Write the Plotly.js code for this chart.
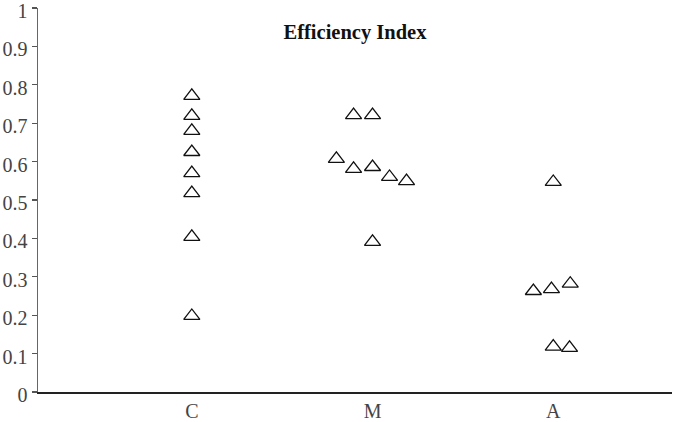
<!DOCTYPE html>
<html>
<head>
<meta charset="utf-8">
<script src="https://cdn.plot.ly/plotly-3.0.1.min.js"></script>
<style>
  html, body { margin: 0; padding: 0; background: #fff; }
  #chart { width: 675px; height: 422px; }
</style>
</head>
<body>
<div id="chart"></div>
<script>
// categories and values
const categories = ['C', 'M', 'A'];
const cValues = [0.771, 0.719, 0.680, 0.625, 0.570, 0.518, 0.404, 0.198];
const mValues = [0.721, 0.721, 0.607, 0.581, 0.586, 0.560, 0.549, 0.391];
const aValues = [0.547, 0.263, 0.268, 0.282, 0.118, 0.115];
const yTicks = [0, 0.1, 0.2, 0.3, 0.4, 0.5, 0.6, 0.7, 0.8, 0.9, 1];

// horizontal jitter of each point (in category widths)
const cJitter = [0, 0, 0, 0, 0, 0, 0, 0];
const mJitter = [-0.105, 0, -0.2, -0.105, 0, 0.094, 0.188, 0];
const aJitter = [0, -0.11, -0.01, 0.094, 0, 0.09];

const groups = [cValues, mValues, aValues];
const jitters = [cJitter, mJitter, aJitter];

const traces = groups.map((vals, i) => ({
  x: vals.map((v, k) => i + jitters[i][k]),
  y: vals,
  type: 'scatter',
  mode: 'markers',
  name: categories[i],
  marker: {
    symbol: 'triangle-up-open',
    size: 14,
    color: '#111',
    line: {width: 1.3, color: '#111'}
  },
  hoverinfo: 'y'
}));

const serif = '"Liberation Serif", "Times New Roman", serif';

const layout = {
  width: 675,
  height: 422,
  margin: {l: 38, r: 3, t: 8, b: 30},
  paper_bgcolor: '#fff',
  plot_bgcolor: '#fff',
  showlegend: false,
  font: {family: serif, size: 20, color: '#444'},
  title: {
    text: '<b>Efficiency Index</b>',
    font: {family: serif, size: 20.5, color: '#111'},
    x: 0.5, xref: 'paper',
    y: 0.924, yanchor: 'middle'
  },
  xaxis: {
    range: [-0.851, 2.657],
    tickvals: [0, 1, 2],
    ticktext: categories,
    ticks: '',
    showgrid: false,
    zeroline: false,
    showline: true,
    linecolor: '#222',
    linewidth: 1.5,
    tickfont: {family: serif, size: 20, color: '#444'}
  },
  yaxis: {
    range: [0, 1],
    tickvals: yTicks,
    ticktext: yTicks.map(String),
    ticks: 'outside',
    ticklen: 5,
    tickcolor: '#555',
    tickwidth: 1.2,
    ticklabeloverflow: 'allow',
    ticklabelshift: 3,
    showgrid: false,
    zeroline: false,
    showline: true,
    linecolor: '#666',
    linewidth: 1.5,
    tickfont: {family: serif, size: 20, color: '#444'}
  }
};

Plotly.newPlot('chart', traces, layout, {displayModeBar: false, staticPlot: true});
</script>
</body>
</html>
